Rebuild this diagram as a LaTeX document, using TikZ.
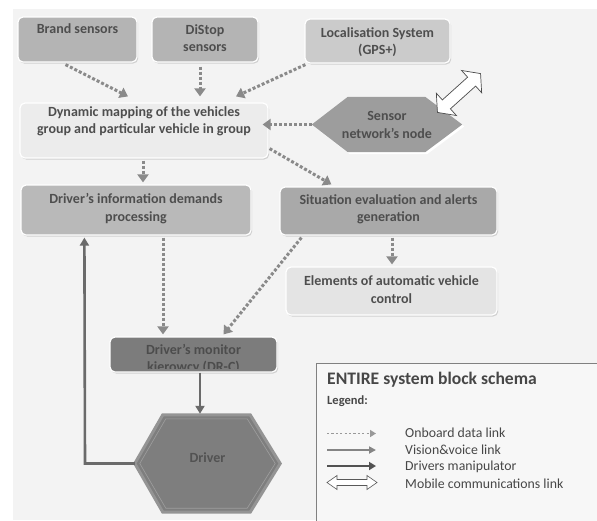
\documentclass[tikz,border=0pt]{standalone}
\usepackage{fontspec}
\setmainfont{Carlito}
\usetikzlibrary{arrows.meta,calc,shadows}
\definecolor{bg}{HTML}{F3F3F3}
\definecolor{txtc}{HTML}{4E4E4E}
\definecolor{cBrand}{HTML}{B4B4B4}
\definecolor{cLoc}{HTML}{CBCBCB}
\definecolor{cDyn}{HTML}{ECECEC}
\definecolor{cInfo}{HTML}{B9B9B9}
\definecolor{cSit}{HTML}{A9A9A9}
\definecolor{cElem}{HTML}{E4E4E4}
\definecolor{cSens}{HTML}{9D9D9D}
\definecolor{cMon}{HTML}{7C7C7C}
\definecolor{cDrv}{HTML}{7E7E7E}
\definecolor{datc}{HTML}{8A8A8A}
\definecolor{solc}{HTML}{6A6A6A}
\begin{document}
\begin{tikzpicture}[x=1pt,y=-1pt,
  box/.style={rounded corners=5pt, draw=white, line width=1.2pt, inner sep=0pt,
    drop shadow={shadow xshift=1.2pt, shadow yshift=-1.5pt, opacity=0.3}},
  txt/.style={font=\bfseries\fontsize{14}{17.5}\selectfont, text=txtc, align=center, inner sep=0pt},
  dat/.style={draw=datc, line width=3pt, dash pattern=on 3pt off 2pt,
    -{Triangle[length=8pt,width=11pt]}},
  sol/.style={draw=solc, line width=2.6pt, -{Triangle[length=8pt,width=9pt]}},
  legtxt/.style={font=\fontsize{13.8}{15}\selectfont, text=black!72, anchor=west, inner sep=0pt}
]
\useasboundingbox (0,0) rectangle (597,520);
\fill[bg] (13,9) rectangle (597,520);

% boxes
\node[box, fill=cBrand, minimum width=119pt, minimum height=45pt] (brand) at (77.5,39.5) {};
\node[txt] (brandt) at (77.5,29) {Brand sensors};
\node[box, fill=cBrand, minimum width=106pt, minimum height=45pt] (distop) at (205,39.5) {};
\node[txt] (distopt) at (205,38) {DiStop\\sensors};
\node[box, fill=cLoc, minimum width=145pt, minimum height=44pt] (loc) at (377.5,41) {};
\node[txt] (loct) at (377.5,42) {Localisation System\\(GPS+)};
\node[box, fill=cDyn, minimum width=248pt, minimum height=55pt] (dyn) at (144,130.5) {};
\node[txt] (dynt) at (144,121.5) {Dynamic mapping of the vehicles\\group and particular vehicle in group};

% sensor node hexagon
\node[minimum width=150pt, minimum height=55pt, inner sep=0pt] (sens) at (387,124.5) {};
\fill[white] ($(sens.west)+(2,2)$) -- ($(sens.north west)+(38,2)$) -- ($(sens.north east)+(-35,2)$)
  -- ($(sens.east)+(2,2)$) -- ($(sens.south east)+(-35,2)$) -- ($(sens.south west)+(38,2)$) -- cycle;
\fill[cSens] (sens.west) -- ($(sens.north west)+(36,0)$) -- ($(sens.north east)+(-37,0)$)
  -- (sens.east) -- ($(sens.south east)+(-37,0)$) -- ($(sens.south west)+(36,0)$) -- cycle;
\node[txt] (senst) at (387,125) {Sensor\\network’s node};

% mobile double arrow
\begin{scope}[shift={(459,93)}, rotate=42]
\node[inner sep=0pt, minimum size=1pt] (mob) at (0,0) {};
\draw[draw=black!70, fill=white, line width=0.7pt, line join=miter]
  (-29,0) -- (-17,15) -- (-17,6) -- (17,6) -- (17,15) -- (29,0) -- (17,-15) -- (17,-6) -- (-17,-6) -- (-17,-15) -- cycle;
\end{scope}

\node[box, fill=cInfo, minimum width=230pt, minimum height=50pt] (info) at (136,210) {};
\node[txt] (infot) at (136,208.5) {Driver’s information demands\\processing};
\node[box, fill=cSit, minimum width=217pt, minimum height=48pt] (sit) at (388.5,211) {};
\node[txt] (sitt) at (388.5,209.5) {Situation evaluation and alerts\\generation};
\node[box, fill=cElem, minimum width=211pt, minimum height=48pt] (elem) at (391.5,291) {};
\node[txt] (elemt) at (391.5,289.5) {Elements of automatic vehicle\\control};

% monitor
\node[box, fill=cMon, minimum width=167pt, minimum height=35pt] (mon) at (193.5,354.5) {};
\begin{scope}
\clip[rounded corners=5pt] ($(mon.north west)+(1,1)$) rectangle ($(mon.south east)+(-1,-4.5)$);
\node[txt, text=black!70] (mont) at (193.5,359) {Driver’s monitor\\kierowcy (DR-C)};
\end{scope}

% driver hexagon
\node[minimum width=145pt, minimum height=97pt, inner sep=0pt] (drv) at (207.5,463.5) {};
\filldraw[fill=cDrv, draw=black!42, line width=3pt, line join=miter] (drv.west) -- ($(drv.north west)+(28,0)$) -- ($(drv.north east)+(-30,0)$)
  -- (drv.east) -- ($(drv.south east)+(-30,0)$) -- ($(drv.south west)+(28,0)$) -- cycle;
\draw[draw=black!38, line width=0.6pt] ($(drv.west)+(5,0)$) -- ($(drv.north west)+(31,4)$) -- ($(drv.north east)+(-33,4)$)
  -- ($(drv.east)+(-5,0)$) -- ($(drv.south east)+(-33,-4)$) -- ($(drv.south west)+(31,-4)$) -- cycle;
\node[txt, text=black!68] (drvt) at (207.5,458) {Driver};

% onboard data links
\draw[dat] ($(brand.south)+(-12,2)$) -- ($(dyn.north)+(-16,-6)$);
\draw[dat] ($(distop.south)+(-5,4)$) -- ($(distop.south |- dyn.north)+(-5,-6)$);
\draw[dat] ($(loc.south west)+(1,1)$) -- ($(dyn.north)+(92,-6)$);
\draw[dat] (sens.west) -- ($(dyn.east)+(-6,-6)$);
\draw[dat] ($(dyn.south)+(-1,2)$) -- ($(dyn.south |- info.north)+(-1,-2)$);
\draw[dat] ($(dyn.south east)+(1,-10)$) -- ($(sit.north west)+(52,-2)$);
\draw[dat] ($(sit.south)+(3.5,2)$) -- ($(sit.south |- elem.north)+(3.5,-2)$);
\draw[dat] ($(info.south)+(27,2)$) -- ($(info.south |- mon.north)+(27,-2)$);
\draw[dat] ($(sit.south west)+(22,2)$) -- ($(mon.north)+(30,-2)$);

% solid links
\draw[sol] ($(mon.south)+(6.5,0)$) -- ($(mon.south |- drv.north)+(6.5,-1)$);
\draw[sol] (drv.west) -- (85,463.5) -- ($(info.south west)+(64,2)$);

% legend
\node[draw=black!50, line width=1.2pt, fill=white!97!black, minimum width=281pt, minimum height=170pt, anchor=north west, inner sep=0pt] (leg) at (316,363) {};
\node[font=\bfseries\fontsize{17.6}{20}\selectfont, text=black!72, anchor=west, inner sep=0pt] (legtitle) at (327,380) {ENTIRE system block schema};
\node[font=\bfseries\fontsize{12.5}{14}\selectfont, text=black!72, anchor=west, inner sep=0pt] (leglab) at (327,401) {Legend:};
\coordinate (l1a) at (327,433.5); \coordinate (l1b) at (376,433.5);
\coordinate (l2a) at (327,450); \coordinate (l2b) at (376,450);
\coordinate (l3a) at (327,466); \coordinate (l3b) at (376,466);
\draw[draw=black!40, line width=1.8pt, dash pattern=on 2.2pt off 2.2pt, -{Triangle[length=6pt,width=7pt]}] (l1a) -- (l1b);
\draw[draw=black!48, line width=2.2pt, -{Triangle[length=7pt,width=7pt]}] (l2a) -- (l2b);
\draw[draw=black!68, line width=2.8pt, -{Triangle[length=7pt,width=8pt]}] (l3a) -- (l3b);
\node[inner sep=0pt, minimum size=1pt] (l4) at (352,482.5) {};
\draw[draw=black!65, fill=white, line width=0.6pt] ($(l4)+(-25,0)$) -- ($(l4)+(-15,-7)$) -- ($(l4)+(-15,-3)$) -- ($(l4)+(15,-3)$) -- ($(l4)+(15,-7)$)
  -- ($(l4)+(25,0)$) -- ($(l4)+(15,7)$) -- ($(l4)+(15,3)$) -- ($(l4)+(-15,3)$) -- ($(l4)+(-15,7)$) -- cycle;
\node[legtxt] (t1) at (405,433) {Onboard data link};
\node[legtxt] (t2) at (405,450) {Vision\&voice link};
\node[legtxt] (t3) at (405,467) {Drivers manipulator};
\node[legtxt] (t4) at (405,484) {Mobile communications link};
\end{tikzpicture}
\end{document}
